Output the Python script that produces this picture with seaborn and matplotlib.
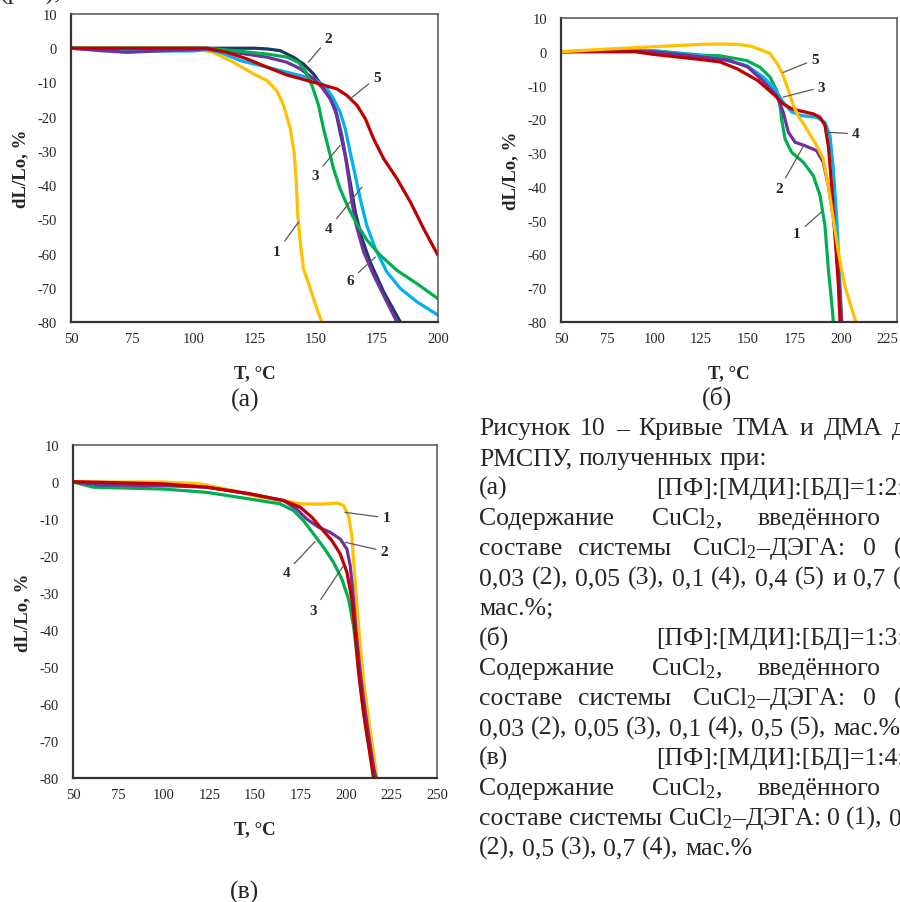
import matplotlib
matplotlib.use("Agg")
import matplotlib.pyplot as plt
import seaborn as sns

# ---------------------------------------------------------------
# Данные (T, °C  /  dL/Lo, %)
# ---------------------------------------------------------------
# (а) [ПФ]:[МДИ]:[БД]=1:2
a1_T = [50, 100, 108.2, 116.4, 124.6, 130, 134.1, 136.9, 139.6, 141.2, 142, 142.7, 143.7, 145, 147.8, 150.5, 152.5]
a1_Y = [0, 0, -1.2, -4.1, -7.5, -9.4, -12.4, -16.7, -23.5, -30.4, -38.1, -48.8, -56.6, -64.4, -70.2, -76.1, -80]
a2_T = [50, 125, 130, 135.5, 140.9, 145, 149.1, 152.5, 156, 158, 160, 162.1, 164.1, 166.2, 168.9, 172.3, 177.8, 184.6]
a2_Y = [0, 0, -0.2, -0.7, -2.6, -4.6, -7.5, -10.9, -14.8, -17.7, -24.5, -31.3, -39.1, -47.9, -55.6, -62.5, -71.2, -80]
a3_T = [50, 61.9, 72.8, 89.1, 105.5, 116.4, 130, 138.2, 143.7, 149.1, 152.5, 156, 158.7, 160.7, 162.1, 163.5, 164.8, 166.6, 169.6, 173.7, 179.1, 183.2]
a3_Y = [0, -0.7, -1.2, -0.7, -0.2, -1.2, -2.6, -4.1, -6, -8.9, -11.4, -14.8, -19.6, -25.5, -31.3, -38.1, -44.9, -51.8, -59.5, -66.3, -74.1, -80]
a4_T = [50, 70, 100, 105.5, 111, 119.1, 130, 140.9, 149.1, 154, 157.3, 160, 162.1, 164.1, 166.2, 168.2, 170.9, 174.4, 179.1, 184.6, 191.4, 200]
a4_Y = [0, -0.8, -0.8, -0.4, -1.2, -3.6, -5.5, -7.5, -8.9, -11.1, -14.8, -18.7, -23.5, -30.4, -37.2, -44, -51.8, -58.6, -65.4, -70.2, -74.1, -78]
a5_T = [50, 105.5, 113.7, 121.9, 130, 138.2, 146.4, 152.8, 158.7, 162.8, 166.9, 170.3, 173.7, 177.8, 183.2, 188.7, 194.1, 200]
a5_Y = [0, 0, -1.2, -3.1, -5.5, -7.8, -9.4, -10.7, -11.9, -13.8, -16.7, -20.6, -26.5, -32.3, -38.1, -44.9, -52.7, -60.5]
a6_T = [50, 105.5, 116.4, 130, 138.2, 142.9, 145.7, 148.5, 151.2, 153.2, 155.3, 157.3, 160, 163.5, 167.2, 171, 176.4, 183.2, 191.4, 200]
a6_Y = [0, 0, -0.7, -1.7, -2.6, -4.1, -6.5, -10.9, -16.7, -23.5, -29.4, -35.2, -41.1, -46.9, -51.8, -56.1, -60.5, -64.9, -68.8, -73.2]

# (б) [ПФ]:[МДИ]:[БД]=1:3
b1_T = [50, 75, 100, 125, 135.2, 149.5, 156.6, 162, 165.5, 167.3, 168.2, 170, 173.6, 179.8, 185.2, 188.8, 191.4, 193.2, 195, 195.9]
b1_Y = [0, 0.3, 0.3, -1, -1.2, -2.6, -4.6, -7.5, -11.4, -15.9, -19.9, -25.8, -29.8, -32.7, -36.7, -42.6, -51.5, -64.3, -74.2, -80]
b2_T = [50, 75, 100, 125, 140, 150, 158, 165.5, 169, 171.8, 175.4, 180.7, 187, 190.5, 193.2, 196, 197.7, 199.1, 200.4]
b2_Y = [0, 0.3, 0, -1.5, -2.5, -4.5, -8.5, -12.9, -17.8, -23.8, -26.8, -27.8, -29.3, -32.7, -39.6, -49.5, -59.4, -69.2, -80]
b3_T = [50, 75, 100, 125, 135.2, 149.5, 158.4, 164.6, 169, 173.6, 178.9, 187, 191.4, 194.1, 195.9, 197.7, 199.1, 200.4]
b3_Y = [0, 0.3, 0.2, -1.2, -2.1, -4.1, -7.5, -11, -15, -17.8, -18.9, -19.4, -20.9, -24.8, -34.7, -49.5, -64.3, -80]
b4_T = [50, 90, 100, 125, 135.2, 144.6, 155.4, 164.5, 169, 173.6, 178.9, 185.2, 188.8, 191.4, 193.2, 195, 196.8, 198.6, 199.5]
b4_Y = [0, 0, -0.8, -2.3, -3, -5.1, -8.5, -12.9, -15.4, -16.9, -17.6, -18.4, -19.4, -21.8, -27.8, -39.6, -54.5, -69.2, -80]
b5_T = [50, 75, 100, 125, 135, 145, 152, 157, 162, 166.4, 169, 171.8, 174.5, 177, 181.6, 187, 190.5, 193.2, 195.9, 198.6, 202, 205.7, 208]
b5_Y = [0, 0.8, 1.5, 2.2, 2.3, 2.2, 1.6, 0.6, -0.5, -4, -7, -11.4, -15.9, -18.9, -22.8, -27.8, -31.7, -39.6, -49.5, -59.4, -69.2, -76, -80]

# (в) [ПФ]:[МДИ]:[БД]=1:4
c1_T = [50, 99.5, 119.7, 138.1, 152.8, 165.6, 174.8, 185.8, 195, 198.6, 201.4, 203.2, 204.5, 206, 207.8, 210, 212.4, 214.8, 217]
c1_Y = [0, 0, -0.5, -2.3, -4.1, -5, -5.9, -6, -5.7, -6.3, -9.1, -14.5, -23.5, -33.4, -44.2, -55, -64, -72.1, -80]
c2_T = [50, 64.7, 99.5, 123.4, 147.2, 165.6, 172.9, 178.4, 184.9, 191.3, 196.8, 200.5, 202.3, 203.8, 205.6, 207.8, 210.6, 213.3, 216.1]
c2_Y = [0, -0.8, -1, -1.4, -3.2, -5, -7.3, -10, -12.2, -13.6, -15.4, -18.1, -22.6, -29.8, -40.6, -51.4, -62.2, -71.2, -80]
c3_T = [50, 99.5, 123.4, 147.2, 165.6, 174.8, 181.2, 186.7, 192.2, 196.8, 200.5, 203.2, 205, 206.9, 209.6, 212.4, 215.1]
c3_Y = [0.1, -0.5, -1.4, -3.2, -5, -6.8, -9.5, -12.7, -15.8, -19.4, -24.4, -31.6, -40.6, -51.4, -62.2, -71.2, -80]
c4_T = [50, 61, 99.5, 123.4, 147.2, 163.8, 171.1, 176.6, 182.1, 187.6, 193.1, 197.7, 201.4, 204.1, 206.3, 208.7, 211.5, 214.2, 216.6]
c4_Y = [0, -1.4, -1.9, -2.8, -4.6, -5.9, -7.7, -10.4, -14, -17.6, -21.7, -26.2, -31.6, -38.8, -47.8, -58.6, -68.5, -75.7, -80]

# номера кривых: позиция подписи и конец выноски
a_nums = ["1", "2", "3", "4", "5", "6"]
a_lbl = [(134.1, -59.5), (155.3, 2.9), (149.8, -37.2), (155.3, -52.7), (175, -8.5), (164.1, -67.8)]
a_tip = [(143, -50.8), (147, -4.1), (160, -28.4), (168.9, -40.6), (164.1, -14.8), (174.4, -61)]
b_nums = ["1", "2", "3", "4", "5"]
b_lbl = [(176.3, -53.9), (167, -40.6), (189.6, -10.5), (208, -24.3), (186.1, -2.3)]
b_tip = [(189.6, -47.4), (180.2, -27.6), (169.1, -13.4), (191.4, -23.8), (169.1, -6.1)]
c_nums = ["1", "2", "3", "4"]
c_lbl = [(222.1, -9.7), (221, -18.7), (182.1, -34.7), (167.1, -24.4)]
c_tip = [(199.5, -8.2), (199.5, -16.3), (198.6, -22.6), (183, -16.1)]

YELLOW, NAVY, PURPLE, BLUE, RED, GREEN = "#FFC000", "#1F3767", "#7030A0", "#00B0F0", "#C00000", "#00B050"

# ---------------------------------------------------------------
sns.set_style("white")
plt.rcParams["font.family"] = ["Liberation Serif", "DejaVu Serif"]
plt.rcParams["mathtext.fontset"] = "custom"
plt.rcParams["mathtext.rm"] = "Liberation Serif"
plt.rcParams["mathtext.default"] = "regular"
plt.rcParams["axes.unicode_minus"] = False

W, H = 900, 903
fig = plt.figure(figsize=(W / 100, H / 100), dpi=100)
renderer = fig.canvas.get_renderer()


def px_axes(left, top, right, bottom):
    return fig.add_axes([left / W, 1 - bottom / H, (right - left) / W, (bottom - top) / H])


def style_axes(ax, xmax):
    ax.set_xlim(50, xmax)
    ax.set_ylim(-80, 10)
    ax.set_xticks(range(50, xmax + 1, 25))
    ax.set_yticks(range(-80, 11, 10))
    ax.tick_params(axis="x", direction="in", length=4, width=0.8, color="#555555",
                   labelsize=10.5, pad=7, top=False)
    ax.tick_params(axis="y", length=0, labelsize=10.5, pad=10)
    for name, sp in ax.spines.items():
        sp.set_visible(True)
        if name in ("left", "bottom"):
            sp.set_color("#333333")
            sp.set_linewidth(1.6)
        else:
            sp.set_color("#555555")
            sp.set_linewidth(1.1)
    ax.set_xlabel("T, °C", fontsize=13.5, fontweight="bold", labelpad=14)
    ax.set_ylabel("dL/Lo, %", fontsize=13.5, fontweight="bold", labelpad=6)


def draw(ax, series):
    for t, y, c in series:
        sns.lineplot(x=t, y=y, ax=ax, color=c, lw=2.3, sort=False, estimator=None)


def numbers(ax, nums, lbl, tip):
    for n, p, q in zip(nums, lbl, tip):
        ax.annotate(n, xy=q, xytext=p, ha="center", va="center", fontsize=11,
                    fontweight="bold",
                    arrowprops=dict(arrowstyle="-", color="#595959", lw=0.9, shrinkA=1, shrinkB=0))


# (а)
ax_a = px_axes(71, 15, 438, 323)
draw(ax_a, [(a2_T, a2_Y, NAVY), (a1_T, a1_Y, YELLOW), (a4_T, a4_Y, BLUE),
            (a3_T, a3_Y, PURPLE), (a6_T, a6_Y, GREEN), (a5_T, a5_Y, RED)])
style_axes(ax_a, 200)
numbers(ax_a, a_nums, a_lbl, a_tip)

# (б)
ax_b = px_axes(561, 19, 897, 323)
draw(ax_b, [(b1_T, b1_Y, GREEN), (b3_T, b3_Y, BLUE), (b2_T, b2_Y, PURPLE),
            (b4_T, b4_Y, RED), (b5_T, b5_Y, YELLOW)])
style_axes(ax_b, 230)
ax_b.set_xticks(range(50, 226, 25))
numbers(ax_b, b_nums, b_lbl, b_tip)

# (в)
ax_c = px_axes(73, 446, 437, 779)
draw(ax_c, [(c1_T, c1_Y, YELLOW), (c4_T, c4_Y, GREEN), (c2_T, c2_Y, PURPLE), (c3_T, c3_Y, RED)])
style_axes(ax_c, 250)
numbers(ax_c, c_nums, c_lbl, c_tip)

# ---------------------------------------------------------------
# текст страницы
FS = 18.5
SPACE = 0.25 * FS * 100 / 72  # ширина пробела Times, px


def word(x, y, s):
    t = fig.text(x / W, 1 - y / H, s, va="baseline", ha="left", fontsize=FS)
    return t


def line(y, words, xs=None, last_x=None):
    # xs - начала слов; last_x - начало последнего слова (выключка по ширине)
    if xs is not None:
        for x, s in zip(xs, words):
            word(x, y, s)
        return
    widths = []
    for s in words:
        t = word(0, y, s)
        widths.append(t.get_window_extent(renderer).width)
        t.remove()
    gap = SPACE
    if last_x is not None and len(words) > 1:
        natural = LEFT + sum(widths[:-1]) + SPACE * (len(words) - 1)
        gap = SPACE + (last_x - natural) / (len(words) - 1)
    x = LEFT
    for s, w in zip(words, widths):
        word(x, y, s)
        x += w + gap


fig.text(245 / W, 1 - 400 / H, "(а)", ha="center", va="center", fontsize=FS)
fig.text(717 / W, 1 - 398 / H, "(б)", ha="center", va="center", fontsize=FS)
fig.text(245 / W, 1 - 892 / H, "(в)", ha="center", va="center", fontsize=FS)

LEFT = 479
cu = "CuCl$_2$"
word(0, 0, "(рис),")

line(435, "Рисунок 10 – Кривые ТМА и ДМА для".split(), last_x=892)
line(465, "РМСПУ, полученных при:".split())
line(495, ["(а)", "[ПФ]:[МДИ]:[БД]=1:2:1."], xs=[LEFT, 656])
line(525, ["Содержание", cu + ",", "введённого", "в"], xs=[LEFT, 651, 758, 905])
line(555, ["составе", "системы", cu + "–ДЭГА:", "0", "(1),"], xs=[LEFT, 578, 692, 863, 894])
line(585, "0,03 (2), 0,05 (3), 0,1 (4), 0,4 (5) и 0,7 (6)".split(), last_x=893)
line(615, ["мас.%;"])
line(645, ["(б)", "[ПФ]:[МДИ]:[БД]=1:3:2."], xs=[LEFT, 656])
line(675, ["Содержание", cu + ",", "введённого", "в"], xs=[LEFT, 651, 758, 905])
line(705, ["составе", "системы", cu + "–ДЭГА:", "0", "(1),"], xs=[LEFT, 578, 692, 863, 894])
line(735, "0,03 (2), 0,05 (3), 0,1 (4), 0,5 (5), мас.%".split(), last_x=833)
line(765, ["(в)", "[ПФ]:[МДИ]:[БД]=1:4:3."], xs=[LEFT, 656])
line(795, ["Содержание", cu + ",", "введённого", "в"], xs=[LEFT, 651, 758, 905])
line(825, ["составе", "системы", cu + "–ДЭГА:", "0", "(1),", "0,03"])
line(855, "(2), 0,5 (3), 0,7 (4), мас.%".split())

fig.savefig("out.png", dpi=100, facecolor="white")
